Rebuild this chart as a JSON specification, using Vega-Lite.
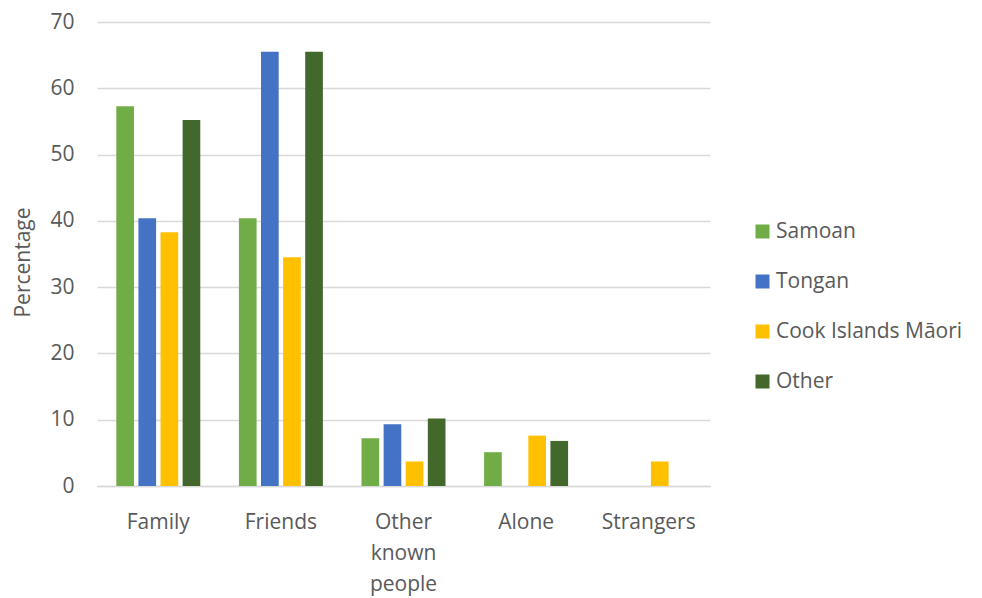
{
  "$schema": "https://vega.github.io/schema/vega-lite/v6.json",
  "autosize": "none",
  "width": 613,
  "height": 464,
  "padding": {"left": 97, "top": 22, "right": 272, "bottom": 112},
  "background": "white",
  "data": {
    "values": [
      {"cat": "Family", "group": "Samoan", "value": 57.3},
      {"cat": "Family", "group": "Tongan", "value": 40.4},
      {"cat": "Family", "group": "Cook Islands Māori", "value": 38.3},
      {"cat": "Family", "group": "Other", "value": 55.2},
      {"cat": "Friends", "group": "Samoan", "value": 40.4},
      {"cat": "Friends", "group": "Tongan", "value": 65.5},
      {"cat": "Friends", "group": "Cook Islands Māori", "value": 34.5},
      {"cat": "Friends", "group": "Other", "value": 65.5},
      {"cat": "Other known people", "group": "Samoan", "value": 7.2},
      {"cat": "Other known people", "group": "Tongan", "value": 9.3},
      {"cat": "Other known people", "group": "Cook Islands Māori", "value": 3.7},
      {"cat": "Other known people", "group": "Other", "value": 10.2},
      {"cat": "Alone", "group": "Samoan", "value": 5.1},
      {"cat": "Alone", "group": "Tongan", "value": 0},
      {"cat": "Alone", "group": "Cook Islands Māori", "value": 7.6},
      {"cat": "Alone", "group": "Other", "value": 6.8},
      {"cat": "Strangers", "group": "Samoan", "value": 0},
      {"cat": "Strangers", "group": "Tongan", "value": 0},
      {"cat": "Strangers", "group": "Cook Islands Māori", "value": 3.7},
      {"cat": "Strangers", "group": "Other", "value": 0}
    ]
  },
  "mark": {"type": "bar"},
  "encoding": {
    "x": {
      "field": "cat",
      "type": "nominal",
      "sort": null,
      "scale": {"paddingInner": 0.315, "paddingOuter": 0.1575},
      "axis": {
        "title": null,
        "labelAngle": 0,
        "labelFont": "Open Sans",
        "labelFontSize": 21,
        "labelColor": "#595959",
        "labelPadding": 25,
        "labelLineHeight": 31,
        "labelExpr": "datum.label == 'Other known people' ? ['Other', 'known', 'people'] : datum.label",
        "ticks": false,
        "domainColor": "#d9d9d9",
        "domainWidth": 1.5,
        "grid": false
      }
    },
    "xOffset": {
      "field": "group",
      "type": "nominal",
      "sort": ["Samoan", "Tongan", "Cook Islands Māori", "Other"],
      "scale": {"paddingInner": 0.2}
    },
    "y": {
      "field": "value",
      "type": "quantitative",
      "scale": {"domain": [0, 70], "nice": false},
      "axis": {
        "title": "Percentage",
        "titleFont": "Open Sans",
        "titleFontSize": 21,
        "titleFontWeight": "normal",
        "titleColor": "#595959",
        "titlePadding": 16,
        "titleY": 240,
        "values": [0, 10, 20, 30, 40, 50, 60, 70],
        "labelFont": "Open Sans",
        "labelFontSize": 21,
        "labelColor": "#595959",
        "labelPadding": 23,
        "ticks": false,
        "domain": false,
        "gridColor": "#d9d9d9",
        "gridWidth": 1.5
      }
    },
    "color": {
      "field": "group",
      "type": "nominal",
      "sort": ["Samoan", "Tongan", "Cook Islands Māori", "Other"],
      "scale": {
        "domain": ["Samoan", "Tongan", "Cook Islands Māori", "Other"],
        "range": ["#70AD47", "#4472C4", "#FFC000", "#43682B"]
      },
      "legend": {
        "title": null,
        "orient": "none",
        "legendX": 655,
        "legendY": 199,
        "symbolType": "square",
        "symbolSize": 196,
        "symbolStrokeWidth": 0,
        "labelFont": "Open Sans",
        "labelFontSize": 21,
        "labelColor": "#595959",
        "labelOffset": 3,
        "rowPadding": 28,
        "labelLimit": 300
      }
    }
  },
  "config": {
    "view": {"stroke": null}
  }
}
